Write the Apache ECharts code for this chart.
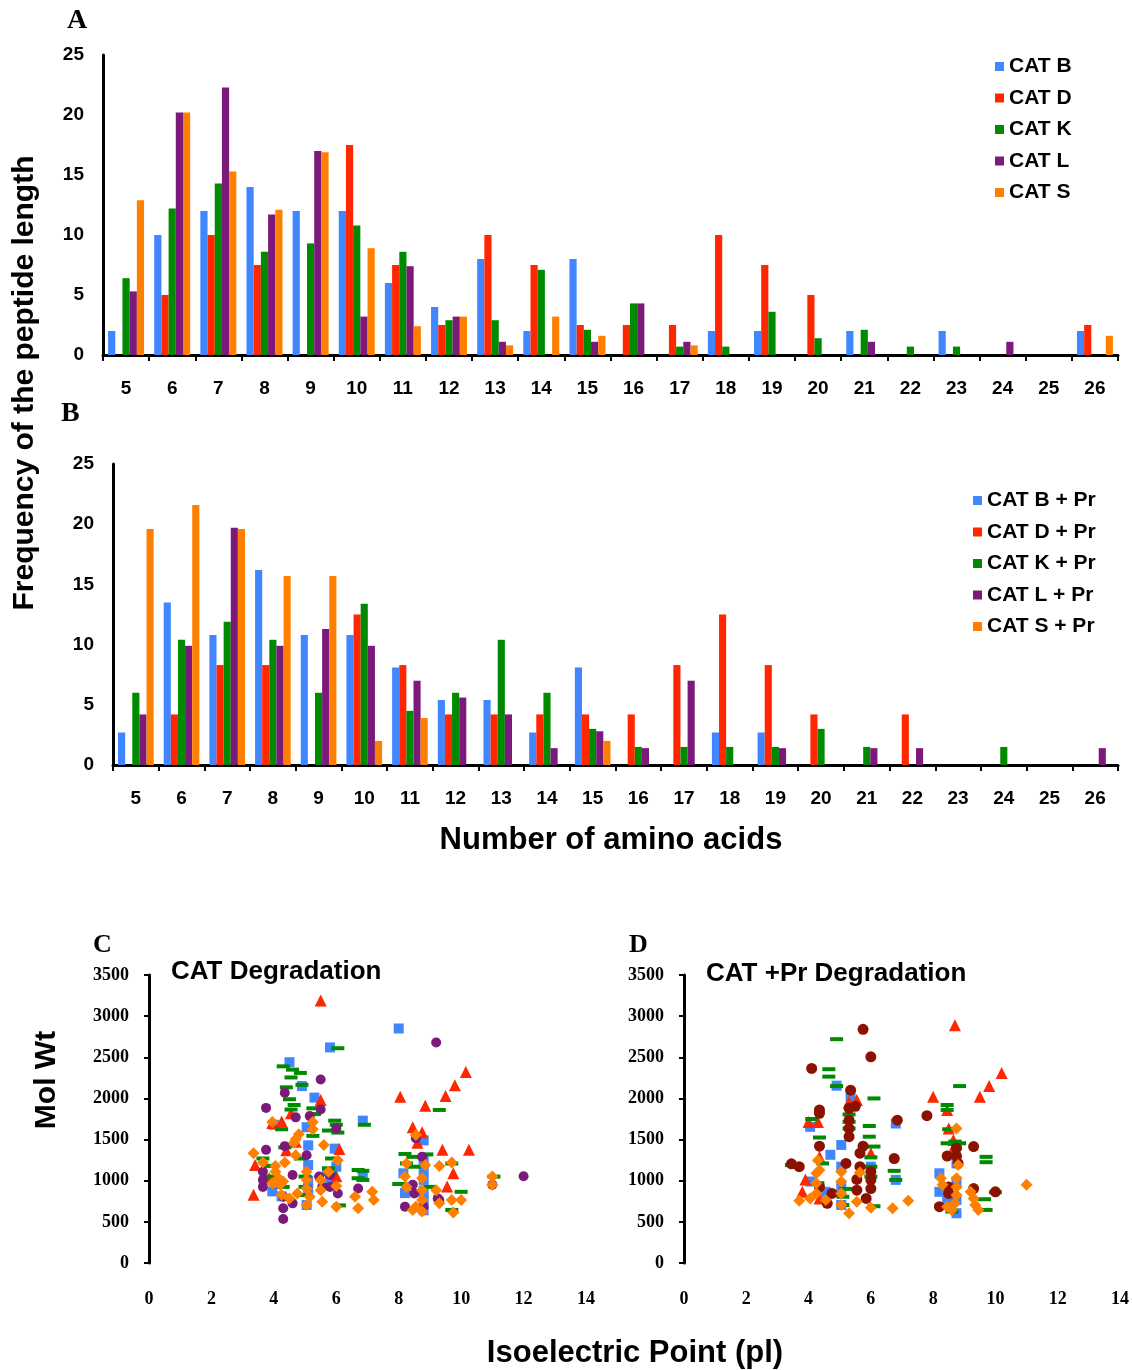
<!DOCTYPE html>
<html>
<head>
<meta charset="utf-8">
<script src="https://cdn.jsdelivr.net/npm/echarts@6/dist/echarts.min.js"></script>
<style>
html, body { margin: 0; padding: 0; background: #fff; }
#chart { width: 1132px; height: 1370px; }
</style>
</head>
<body>
<div id="chart"></div>
<script>
// peptide lengths 5..26
const lengths = ['5','6','7','8','9','10','11','12','13','14','15','16','17','18','19','20','21','22','23','24','25','26'];

// panel A
const catB = [2, 10, 12, 14, 12, 12, 6, 4, 8, 2, 8, 0, 0, 2, 2, 0, 2, 0, 2, 0, 0, 2];
const catD = [0, 5, 10, 7.5, 0, 17.5, 7.5, 2.5, 10, 7.5, 2.5, 2.5, 2.5, 10, 7.5, 5, 0, 0, 0, 0, 0, 2.5];
const catK = [6.4, 12.2, 14.3, 8.6, 9.3, 10.8, 8.6, 2.9, 2.9, 7.1, 2.1, 4.3, 0.7, 0.7, 3.6, 1.4, 2.1, 0.7, 0.7, 0, 0, 0];
const catL = [5.3, 20.2, 22.3, 11.7, 17.0, 3.2, 7.4, 3.2, 1.1, 0, 1.1, 4.3, 1.1, 0, 0, 0, 1.1, 0, 0, 1.1, 0, 0];
const catS = [12.9, 20.2, 15.3, 12.1, 16.9, 8.9, 2.4, 3.2, 0.8, 3.2, 1.6, 0, 0.8, 0, 0, 0, 0, 0, 0, 0, 0, 1.6];

// panel B
const catBPr = [2.7, 13.5, 10.8, 16.2, 10.8, 10.8, 8.1, 5.4, 5.4, 2.7, 8.1, 0, 0, 2.7, 2.7, 0, 0, 0, 0, 0, 0, 0];
const catDPr = [0, 4.2, 8.3, 8.3, 0, 12.5, 8.3, 4.2, 4.2, 4.2, 4.2, 4.2, 8.3, 12.5, 8.3, 4.2, 0, 4.2, 0, 0, 0, 0];
const catKPr = [6.0, 10.4, 11.9, 10.4, 6.0, 13.4, 4.5, 6.0, 10.4, 6.0, 3.0, 1.5, 1.5, 1.5, 1.5, 3.0, 1.5, 0, 0, 1.5, 0, 0];
const catLPr = [4.2, 9.9, 19.7, 9.9, 11.3, 9.9, 7.0, 5.6, 4.2, 1.4, 2.8, 1.4, 7.0, 0, 1.4, 0, 1.4, 1.4, 0, 0, 0, 1.4];
const catSPr = [19.6, 21.6, 19.6, 15.7, 15.7, 2.0, 3.9, 0, 0, 0, 2.0, 0, 0, 0, 0, 0, 0, 0, 0, 0, 0, 0];

// panel C: [pI, Mol Wt]
const degB = [[5.8,2620],[4.5,2440],[4.9,2150],[5.3,2010],[4.0,1680],[5.05,1650],[5.1,1430],[5.1,1190],[5.95,1390],[6.0,1170],[5.7,1110],[3.95,870],[4.25,810],[5.05,705],[6.85,1730],[6.85,1050],[8.0,2850],[8.8,1490],[8.8,1250],[8.8,1010],[8.8,765],[8.8,640],[8.15,1090],[8.2,850],[8.8,1130],[8.8,880],[5.1,1000],[5.1,900],[5.8,1010]];
const degD = [[5.5,3190],[5.5,1980],[4.25,1720],[3.95,1700],[4.55,1820],[3.4,1190],[3.35,830],[3.85,1030],[4.4,1370],[4.7,1475],[6.1,1385],[6.0,1055],[8.05,2020],[8.85,1910],[9.5,2030],[9.8,2160],[10.15,2320],[8.45,1650],[8.75,1590],[8.6,1460],[9.4,1375],[10.25,1375],[9.75,1090],[9.55,930]];
const degK = [[6.05,2610],[4.3,2390],[4.6,2350],[4.85,2310],[4.55,2255],[4.4,2135],[4.9,2165],[4.5,1990],[4.65,1920],[4.55,1865],[5.25,1880],[5.3,1810],[5.95,1730],[6.0,1680],[4.25,1625],[5.75,1610],[6.05,1585],[5.25,1545],[4.35,1405],[4.85,1270],[3.65,1270],[5.85,1270],[3.9,1180],[5.75,1150],[5.0,1050],[5.0,925],[5.0,825],[6.1,700],[4.3,925],[3.95,1050],[5.8,1090],[6.7,1130],[6.7,1030],[6.9,1680],[6.85,1120],[6.85,1010],[9.3,1860],[8.2,1325],[8.45,1290],[8.9,1320],[8.25,1210],[8.0,960],[10.0,865],[9.0,925],[9.7,645],[11.05,1050],[9.7,1210],[8.5,1170]];
const degL = [[5.5,2230],[4.35,2070],[3.75,1885],[5.5,1865],[4.7,1770],[5.15,1785],[6.0,1635],[3.75,1375],[4.35,1420],[5.05,1310],[3.65,1110],[3.65,925],[4.6,1070],[4.3,805],[4.3,665],[4.3,535],[4.6,725],[5.45,1050],[5.8,1070],[5.8,925],[6.05,845],[5.55,925],[6.7,905],[9.2,2680],[8.55,1515],[8.75,1290],[8.45,950],[8.5,845],[8.2,685],[8.8,685],[9.3,765],[11.0,950],[12.0,1055],[9.25,785],[3.65,1010]];
const degS = [[3.95,1715],[5.25,1715],[5.25,1625],[4.8,1565],[4.7,1505],[4.65,1460],[5.6,1435],[3.35,1335],[4.7,1310],[6.05,1250],[3.65,1220],[4.05,1180],[4.35,1220],[4.05,1110],[4.15,1030],[4.2,950],[4.3,990],[3.95,970],[4.25,825],[4.5,785],[4.75,845],[5.05,1110],[5.05,1010],[5.05,905],[5.15,805],[5.05,705],[5.5,1010],[5.5,885],[5.55,745],[5.75,1110],[6.0,935],[6.0,685],[6.6,805],[6.7,665],[7.15,865],[7.2,765],[8.55,1555],[8.25,1210],[8.2,1050],[8.25,925],[8.85,1190],[8.75,1030],[8.75,885],[8.75,765],[8.55,685],[8.75,625],[8.45,645],[9.3,1180],[9.7,1220],[9.2,885],[9.3,725],[9.7,765],[10.0,765],[9.75,615],[11.0,1050],[11.0,950]];

// panel D: [pI, Mol Wt]
const prB = [[4.9,2155],[5.35,2020],[4.05,1655],[5.05,1435],[4.7,1315],[5.05,1170],[5.05,925],[5.05,705],[6.0,1170],[4.05,990],[4.55,865],[6.8,1010],[6.8,1695],[8.2,1090],[8.2,865],[8.75,1435],[8.75,1210],[8.75,990],[8.75,765],[8.75,605],[8.45,765]];
const prD = [[5.3,1960],[5.55,1980],[4.0,1715],[4.3,1715],[4.35,1290],[6.0,1335],[3.9,1015],[3.8,865],[4.35,785],[8.7,2890],[8.0,2020],[9.5,2020],[9.8,2150],[10.2,2310],[8.45,1860],[8.5,1635],[8.65,1495],[8.65,1395]];
const prK = [[4.9,2720],[4.65,2355],[4.65,2265],[4.9,2150],[6.1,2000],[4.1,1750],[5.3,1805],[5.3,1715],[5.3,1635],[5.95,1665],[5.95,1535],[4.35,1525],[6.1,1415],[6.0,1285],[6.0,1170],[6.0,1050],[6.75,1120],[6.8,1010],[3.45,1190],[4.45,1210],[5.1,805],[5.2,900],[6.1,690],[5.1,705],[4.3,970],[8.85,2150],[8.45,1920],[8.45,1860],[8.5,1625],[8.45,1455],[8.7,1475],[8.85,1455],[9.7,1290],[9.7,1225],[9.65,775],[9.7,645],[10.0,860],[8.6,625]];
const prL = [[5.75,2840],[6.0,2505],[4.1,2365],[5.35,2100],[5.3,1880],[5.5,1905],[4.35,1860],[4.35,1820],[5.3,1735],[5.3,1635],[5.3,1535],[4.35,1420],[5.75,1420],[5.65,1335],[3.45,1205],[3.7,1170],[5.2,1210],[5.65,1170],[6.0,1110],[6.0,1010],[6.0,905],[5.55,1015],[5.55,885],[5.85,785],[4.75,845],[4.6,725],[4.35,925],[6.75,1270],[6.85,1735],[7.8,1790],[9.3,1415],[8.45,1300],[8.75,1395],[8.75,1300],[8.8,1210],[8.5,925],[8.5,845],[9.3,905],[10.0,865],[8.2,685]];
const prS = [[4.3,1250],[4.35,1130],[4.25,1090],[4.25,970],[4.25,845],[4.05,785],[3.7,755],[4.55,765],[5.05,1110],[5.05,990],[5.05,845],[5.05,705],[5.3,605],[5.65,1100],[5.55,745],[6.0,670],[6.7,665],[7.2,755],[11.0,950],[8.75,1635],[8.8,1190],[8.25,1030],[8.3,950],[8.75,1030],[8.75,925],[8.75,825],[8.7,725],[8.6,645],[8.45,685],[9.2,865],[9.3,785],[9.35,705],[9.45,645]];

const blue = '#3F86FF', red = '#FF2600', green = '#008A00', purple = '#7B1A7A', orange = '#FF8000', darkRed = '#8B1200';
const sans = 'Liberation Sans', serif = 'Liberation Serif';

const chart = echarts.init(document.getElementById('chart'))

const barXAxis = (gi) => ({
  type: 'category', gridIndex: gi, data: lengths,
  axisLine: { lineStyle: { color: '#000', width: 3 } },
  axisTick: { show: true, length: 6, lineStyle: { color: '#000', width: 2 } },
  axisLabel: { color: '#000', fontFamily: sans, fontWeight: 'bold', fontSize: 19, margin: 24 }
})
const barYAxis = (gi) => ({
  type: 'value', gridIndex: gi, min: 0, max: 25, interval: 5,
  axisLine: { show: true, lineStyle: { color: '#000', width: 3 } },
  axisTick: { show: false },
  splitLine: { show: false },
  axisLabel: { color: '#000', fontFamily: sans, fontWeight: 'bold', fontSize: 19, margin: 19 }
})
const scX = (gi) => ({
  type: 'value', gridIndex: gi, min: 0, max: 14, interval: 2,
  axisLine: { show: false },
  axisTick: { show: false },
  splitLine: { show: false },
  axisLabel: { color: '#000', fontFamily: serif, fontWeight: 'bold', fontSize: 18, margin: 27 }
})
const scY = (gi) => ({
  type: 'value', gridIndex: gi, min: 0, max: 3500, interval: 500,
  axisLine: { show: true, onZero: false, lineStyle: { color: '#000', width: 3 } },
  axisTick: { show: true, length: 5, lineStyle: { color: '#000', width: 2 } },
  splitLine: { show: false },
  axisLabel: { color: '#000', fontFamily: serif, fontWeight: 'bold', fontSize: 18, margin: 20, formatter: (v) => String(v) }
})

const bar = (name, data, color, gi) => ({
  name, type: 'bar', data, xAxisIndex: gi, yAxisIndex: gi,
  barGap: '0%', barCategoryGap: '22%',
  itemStyle: { color }
})
const pts = (name, data, color, symbol, size, gi) => ({
  name, type: 'scatter', data, xAxisIndex: gi, yAxisIndex: gi,
  symbol, symbolSize: size,
  itemStyle: { color, opacity: 1 }
})

const legendBase = {
  orient: 'vertical', padding: 0, itemWidth: 9, itemHeight: 9, itemGap: 10.5,
  icon: 'rect', selectedMode: false,
  textStyle: { color: '#000', fontFamily: sans, fontWeight: 'bold', fontSize: 21, lineHeight: 20 }
}

const txt = (text, x, y, size, family, align, rot) => ({
  type: 'text', x, y, rotation: rot || 0,
  style: { text, fill: '#000', font: 'bold ' + size + 'px "' + family + '"', textAlign: align || 'left', textVerticalAlign: 'middle' }
})

chart.setOption({
  backgroundColor: '#fff',
  animation: false,
  grid: [
    { left: 103, top: 55, width: 1015, height: 300 },
    { left: 113, top: 464, width: 1005, height: 301 },
    { left: 149, top: 975, width: 437, height: 288 },
    { left: 684, top: 975, width: 436, height: 288 }
  ],
  xAxis: [barXAxis(0), barXAxis(1), scX(2), scX(3)],
  yAxis: [barYAxis(0), barYAxis(1), scY(2), scY(3)],
  legend: [
    Object.assign({ left: 995, top: 56, data: ['CAT B', 'CAT D', 'CAT K', 'CAT L', 'CAT S'] }, legendBase),
    Object.assign({ left: 973, top: 490, data: ['CAT B + Pr', 'CAT D + Pr', 'CAT K + Pr', 'CAT L + Pr', 'CAT S + Pr'] }, legendBase)
  ],
  graphic: [
    txt('A', 67, 21, 28, serif),
    txt('B', 61, 414, 28, serif),
    txt('C', 93, 945, 26, serif),
    txt('D', 629, 945, 26, serif),
    txt('CAT Degradation', 171, 972, 26, sans),
    txt('CAT +Pr Degradation', 706, 974, 26, sans),
    txt('Number of amino acids', 611, 840, 31, sans, 'center'),
    txt('Isoelectric Point (pl)', 635, 1353, 31, sans, 'center'),
    txt('Frequency of the peptide length', 25, 383, 30, sans, 'center', Math.PI / 2),
    txt('Mol Wt', 47, 1080, 30, sans, 'center', Math.PI / 2)
  ],
  series: [
    bar('CAT B', catB, blue, 0),
    bar('CAT D', catD, red, 0),
    bar('CAT K', catK, green, 0),
    bar('CAT L', catL, purple, 0),
    bar('CAT S', catS, orange, 0),
    bar('CAT B + Pr', catBPr, blue, 1),
    bar('CAT D + Pr', catDPr, red, 1),
    bar('CAT K + Pr', catKPr, green, 1),
    bar('CAT L + Pr', catLPr, purple, 1),
    bar('CAT S + Pr', catSPr, orange, 1),
    pts('deg B', degB, blue, 'rect', 10, 2),
    pts('deg D', degD, red, 'triangle', 12, 2),
    pts('deg K', degK, green, 'rect', [13, 4], 2),
    pts('deg L', degL, purple, 'circle', 10, 2),
    pts('deg S', degS, orange, 'diamond', 12, 2),
    pts('pr B', prB, blue, 'rect', 10, 3),
    pts('pr D', prD, red, 'triangle', 12, 3),
    pts('pr K', prK, green, 'rect', [13, 4], 3),
    pts('pr L', prL, darkRed, 'circle', 11, 3),
    pts('pr S', prS, orange, 'diamond', 12, 3)
  ]
})
</script>
</body>
</html>
